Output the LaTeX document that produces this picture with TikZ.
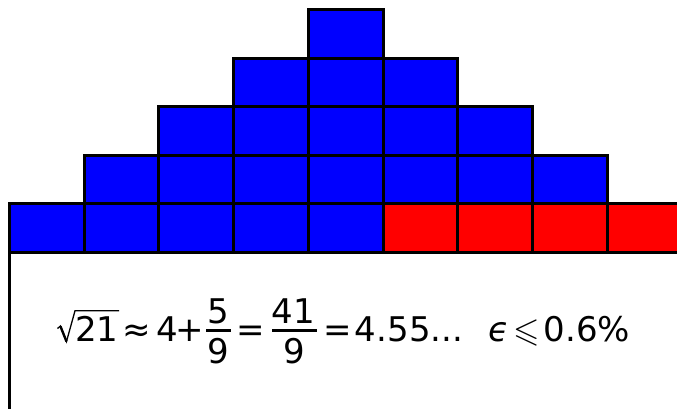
\documentclass[tikz,border=0pt]{standalone}
\usepackage{amssymb}
\usepackage{fontspec}
\setmainfont{DejaVu Sans}
\tikzset{
  cell/.style={draw=black, line width=3pt},
  bluecell/.style={cell, fill={rgb,255:red,0;green,0;blue,255}},
  redcell/.style={cell, fill={rgb,255:red,255;green,0;blue,0}},
  tx/.style={anchor=base, inner sep=0pt, font=\fontsize{34}{40}\selectfont},
  bar/.style={line width=2.6pt},
}
\begin{document}
\begin{tikzpicture}[x=1pt,y=-1pt]
\useasboundingbox (0,0) rectangle (677,409);
\clip (0,0) rectangle (677,409);
\def\cw{74.7}
\def\ch{48.4}
\foreach \c in {0,...,4} \filldraw[bluecell] ({9.5+\cw*\c},{252-\ch}) rectangle ++(\cw,\ch);
\foreach \c in {5,...,8} \filldraw[redcell] ({9.5+\cw*\c},{252-\ch}) rectangle ++(\cw,\ch);
\foreach \c in {1,...,7} \filldraw[bluecell] ({9.5+\cw*\c},{252-2*\ch}) rectangle ++(\cw,\ch);
\foreach \c in {2,...,6} \filldraw[bluecell] ({9.5+\cw*\c},{252-3*\ch}) rectangle ++(\cw,\ch);
\foreach \c in {3,...,5} \filldraw[bluecell] ({9.5+\cw*\c},{252-4*\ch}) rectangle ++(\cw,\ch);
\foreach \c in {4} \filldraw[bluecell] ({9.5+\cw*\c},{252-5*\ch}) rectangle ++(\cw,\ch);
\draw[line width=3pt] (9.5,252) -- (9.5,412);
% formula
\draw[line width=1.3pt, line join=miter] (57.5,328.5) -- (60.5,326) -- (66.5,341.5) -- (75,310.8) -- (119,310.8);
\draw[line width=2.4pt] (60.5,326.5) -- (66.5,341.5);
\node[tx] (n21) at (97,341) {21};
\node[tx] (apx) at (137,341) {≈};
\node[tx] (n4) at (167.5,341) {4};
\node[tx] (pl) at (190,341) {+};
\node[tx] (n5) at (218.5,323) {5};
\node[tx] (d9a) at (218.5,363) {9};
\draw[bar] (206,330.5) -- (231,330.5);
\node[tx] (eq1) at (250.5,341) {=};
\node[tx] (n41) at (293.5,323) {41};
\node[tx] (d9b) at (294,363) {9};
\draw[bar] (272,330.5) -- (317,330.5);
\node[tx] (eq2) at (337.5,341) {=};
\node[tx] (dec) at (409,341) {4.55...};
\node[tx] (eps) at (498.5,341) {\itshape ϵ};
\node[tx] (leq) at (526.5,341) {$\leqslant$};
\node[tx] (pct) at (587,341) {0.6\%};
\end{tikzpicture}
\end{document}
